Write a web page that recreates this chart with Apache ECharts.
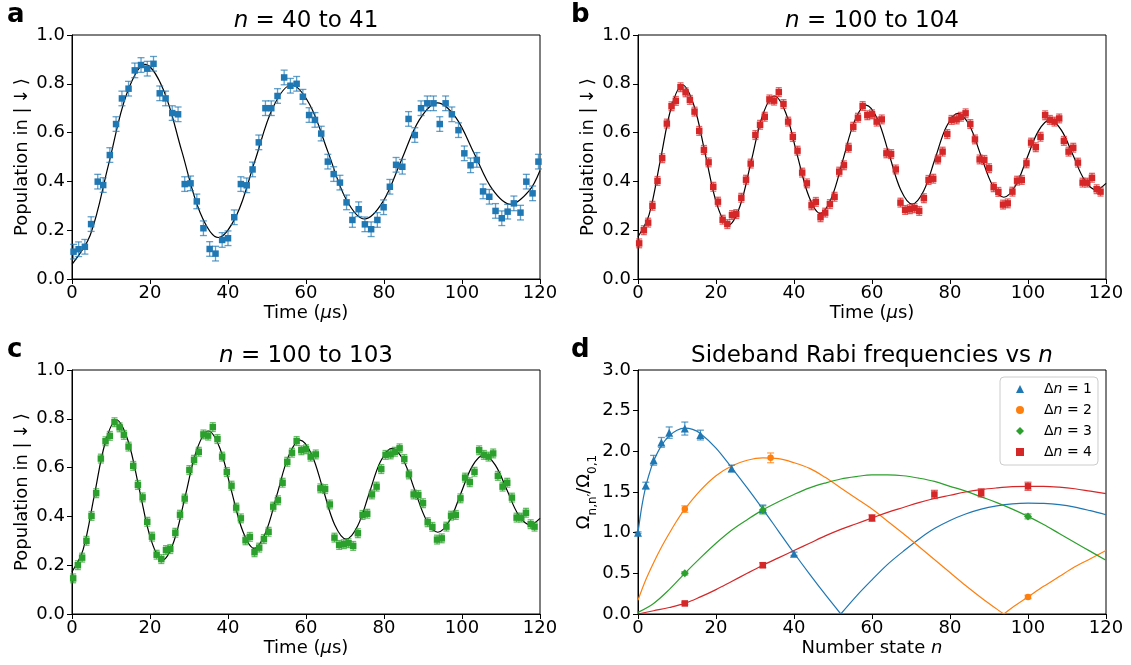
<!DOCTYPE html>
<html><head><meta charset="utf-8">
<script src="https://cdn.jsdelivr.net/npm/echarts@6/dist/echarts.min.js"></script>
<style>html,body{margin:0;padding:0;background:#fff}#c{width:1131px;height:665px}</style>
</head><body><div id="c"></div>
<script>
// ---------- Panel a: n = 40 to 41 ----------
const timeA = [0.4,1.7,3.3,4.9,6.6,8.0,9.7,11.3,12.8,14.5,16.1,17.7,19.3,20.9,22.5,24.0,25.7,27.2,28.9,30.4,32.0,33.7,35.3,36.8,38.5,40.0,41.6,43.3,44.8,46.3,47.9,49.6,51.1,52.7,54.4,56.0,57.6,59.2,60.8,62.3,63.9,65.6,67.1,68.7,70.4,71.9,73.5,75.1,76.7,78.3,79.9,81.5,83.1,84.7,86.3,87.9,89.5,91.1,92.7,94.3,95.8,97.4,99.1,100.6,102.2,103.8,105.4,107.0,108.6,110.2,111.7,113.3,115.0,116.5,118.1,119.6];
const popA = [0.112,0.122,0.132,0.225,0.399,0.385,0.508,0.635,0.74,0.78,0.855,0.877,0.862,0.882,0.761,0.74,0.68,0.675,0.389,0.392,0.318,0.208,0.123,0.104,0.16,0.167,0.253,0.389,0.384,0.449,0.56,0.70,0.70,0.75,0.826,0.792,0.80,0.747,0.672,0.652,0.596,0.481,0.43,0.395,0.314,0.242,0.286,0.224,0.204,0.242,0.294,0.378,0.468,0.46,0.656,0.59,0.70,0.72,0.72,0.635,0.72,0.675,0.61,0.515,0.466,0.488,0.359,0.337,0.279,0.249,0.276,0.31,0.272,0.399,0.351,0.481];
const errA = 0.03;
const fitTA = [0,4.69,9.38,14.06,18.75,23.44,28.13,32.81,37.5,42.19,46.88,51.56,56.25,60.94,65.63,70.31,75,79.69,84.38,89.06,93.75,98.44,103.13,107.81,112.5,117.19,120];
const fitVA = [0.06,0.18,0.47,0.76,0.88,0.776,0.525,0.274,0.17,0.261,0.483,0.704,0.795,0.715,0.521,0.326,0.246,0.316,0.484,0.652,0.722,0.661,0.514,0.367,0.306,0.361,0.445];

// ---------- Panel b: n = 100 to 104 ----------
const timeB = [0.3,1.5,2.6,3.7,5.0,6.2,7.4,8.6,9.7,10.9,12.2,13.3,14.5,15.7,16.9,18.1,19.3,20.5,21.7,22.9,24.1,25.2,26.5,27.7,28.9,30.1,31.3,32.5,33.7,34.9,36.1,37.3,38.5,39.7,40.9,42.1,43.3,44.5,45.6,46.8,48.0,49.2,50.4,51.6,52.8,54.0,55.2,56.4,57.6,58.8,60.0,61.2,62.5,63.7,64.9,66.1,67.3,68.5,69.7,70.9,72.1,73.3,74.5,75.7,76.9,78.1,79.3,80.4,81.7,82.8,84.0,85.2,86.4,87.6,88.8,90.0,91.2,92.4,93.6,94.8,96.0,97.2,98.4,99.6,100.8,102.0,103.2,104.4,105.6,106.8,108.0,109.2,110.4,111.6,112.8,114.0,115.2,116.4,117.6,118.6];
const popB = [0.146,0.20,0.231,0.30,0.402,0.495,0.637,0.708,0.73,0.786,0.765,0.734,0.686,0.607,0.529,0.478,0.378,0.317,0.243,0.225,0.262,0.266,0.333,0.407,0.473,0.59,0.632,0.665,0.736,0.731,0.766,0.717,0.645,0.582,0.526,0.436,0.392,0.302,0.316,0.253,0.272,0.307,0.337,0.44,0.466,0.538,0.624,0.661,0.709,0.671,0.675,0.645,0.654,0.515,0.512,0.449,0.313,0.283,0.286,0.29,0.279,0.331,0.406,0.411,0.49,0.522,0.594,0.652,0.654,0.665,0.679,0.635,0.572,0.49,0.488,0.454,0.376,0.357,0.305,0.31,0.358,0.403,0.406,0.474,0.559,0.54,0.583,0.671,0.652,0.645,0.658,0.566,0.522,0.538,0.477,0.395,0.395,0.415,0.368,0.358];
const errB = 0.018;
const fitTB = [0,2.85,5.7,8.55,11.4,14.35,17.3,20.25,23.2,26.14,29.08,32.0,34.95,37.9,40.8,43.8,46.7,49.65,52.6,55.55,58.5,61.45,64.4,67.35,70.3,73.24,76.18,79.1,82.05,85.0,87.9,90.86,93.8,96.75,99.7,102.65,105.6,108.55,111.5,114.45,117.4,120];
const fitVB = [0.173,0.264,0.484,0.704,0.795,0.711,0.508,0.305,0.221,0.298,0.486,0.673,0.75,0.680,0.510,0.339,0.269,0.334,0.491,0.648,0.713,0.654,0.510,0.366,0.307,0.361,0.493,0.625,0.679,0.629,0.507,0.385,0.335,0.381,0.494,0.606,0.652,0.610,0.509,0.407,0.365,0.392];

// ---------- Panel c: n = 100 to 103 (same measured values as shown) ----------
const timeC = [0.3,1.5,2.6,3.7,5.0,6.2,7.4,8.6,9.7,10.9,12.2,13.3,14.5,15.7,16.9,18.1,19.3,20.5,21.7,22.9,24.1,25.2,26.5,27.7,28.9,30.1,31.3,32.5,33.7,34.9,36.1,37.3,38.5,39.7,40.9,42.1,43.3,44.5,45.6,46.8,48.0,49.2,50.4,51.6,52.8,54.0,55.2,56.4,57.6,58.8,60.0,61.2,62.5,63.7,64.9,66.1,67.3,68.5,69.7,70.9,72.1,73.3,74.5,75.7,76.9,78.1,79.3,80.4,81.7,82.8,84.0,85.2,86.4,87.6,88.8,90.0,91.2,92.4,93.6,94.8,96.0,97.2,98.4,99.6,100.8,102.0,103.2,104.4,105.6,106.8,108.0,109.2,110.4,111.6,112.8,114.0,115.2,116.4,117.6,118.6];
const popC = [0.146,0.20,0.231,0.30,0.402,0.495,0.637,0.708,0.73,0.786,0.765,0.734,0.686,0.607,0.529,0.478,0.378,0.317,0.243,0.225,0.262,0.266,0.333,0.407,0.473,0.59,0.632,0.665,0.736,0.731,0.766,0.717,0.645,0.582,0.526,0.436,0.392,0.302,0.316,0.253,0.272,0.307,0.337,0.44,0.466,0.538,0.624,0.661,0.709,0.671,0.675,0.645,0.654,0.515,0.512,0.449,0.313,0.283,0.286,0.29,0.279,0.331,0.406,0.411,0.49,0.522,0.594,0.652,0.654,0.665,0.679,0.635,0.572,0.49,0.488,0.454,0.376,0.357,0.305,0.31,0.358,0.403,0.406,0.474,0.559,0.54,0.583,0.671,0.652,0.645,0.658,0.566,0.522,0.538,0.477,0.395,0.395,0.415,0.368,0.358];
const errC = 0.018;
const fitTC = [0,2.85,5.7,8.55,11.4,14.35,17.3,20.25,23.2,26.14,29.08,32.0,34.95,37.9,40.8,43.8,46.7,49.65,52.6,55.55,58.5,61.45,64.4,67.35,70.3,73.24,76.18,79.1,82.05,85.0,87.9,90.86,93.8,96.75,99.7,102.65,105.6,108.55,111.5,114.45,117.4,120];
const fitVC = [0.173,0.264,0.484,0.704,0.795,0.711,0.508,0.305,0.221,0.298,0.486,0.673,0.75,0.680,0.510,0.339,0.269,0.334,0.491,0.648,0.713,0.654,0.510,0.366,0.307,0.361,0.493,0.625,0.679,0.629,0.507,0.385,0.335,0.381,0.494,0.606,0.652,0.610,0.509,0.407,0.365,0.392];

// ---------- Panel d: sideband Rabi frequencies ----------
const dnLabels = ['1','2','3','4'];
const nD1 = [0,2,4,6,8,12,16,24,32,40];
const vD1 = [1.0,1.58,1.89,2.11,2.23,2.28,2.20,1.79,1.29,0.74];
const eD1 = [0.01,0.04,0.06,0.06,0.07,0.08,0.06,0.04,0.05,0.02];
const nD2 = [12,34,100];
const vD2 = [1.29,1.92,0.21];
const eD2 = [0.04,0.06,0.02];
const nD3 = [12,32,100];
const vD3 = [0.50,1.28,1.20];
const eD3 = [0.02,0.05,0.03];
const nD4 = [12,32,60,76,88,100];
const vD4 = [0.13,0.60,1.18,1.47,1.49,1.57];
const eD4 = [0.015,0.03,0.04,0.05,0.05,0.05];
const fitN1a = [0,1,2,3,4,6,8,10,12,14,16,20,24,28,32,36,40,44,48,52];
const fitV1a = [1.0,1.33,1.57,1.74,1.88,2.07,2.19,2.26,2.285,2.27,2.22,2.04,1.80,1.55,1.29,1.02,0.75,0.49,0.24,0];
const fitN1b = [52,56,60,64,68,72,76,80,84,88,92,96,100,104,108,112,116,120];
const fitV1b = [0,0.22,0.42,0.61,0.77,0.92,1.05,1.15,1.23,1.29,1.33,1.355,1.363,1.36,1.345,1.315,1.27,1.22];
const fitN2a = [0,2,4,6,8,10,12,16,20,24,28,32,36,40,44,48,52,56,60,64,68,72,76,80,84,88,92,93.8];
const fitV2a = [0.17,0.42,0.63,0.82,0.99,1.15,1.29,1.52,1.70,1.82,1.89,1.92,1.91,1.86,1.79,1.68,1.55,1.42,1.29,1.14,0.99,0.83,0.67,0.51,0.35,0.20,0.06,0];
const fitN2b = [93.8,96,100,104,108,112,116,120];
const fitV2b = [0,0.08,0.21,0.34,0.46,0.58,0.68,0.78];
const fitN3 = [0,4,8,12,16,20,24,28,32,36,40,44,48,52,56,60,64,68,72,76,80,84,88,92,96,100,104,108,112,116,120];
const fitV3 = [0.02,0.13,0.30,0.50,0.69,0.87,1.03,1.16,1.28,1.38,1.47,1.55,1.61,1.66,1.69,1.71,1.71,1.70,1.67,1.63,1.57,1.51,1.44,1.37,1.29,1.20,1.10,0.99,0.88,0.77,0.66];
const fitN4 = [0,4,8,12,16,20,24,28,32,36,40,44,48,52,56,60,64,68,72,76,80,84,88,92,96,100,104,108,112,116,120];
const fitV4 = [0.0,0.04,0.08,0.13,0.21,0.30,0.40,0.50,0.60,0.69,0.78,0.87,0.96,1.04,1.11,1.18,1.25,1.31,1.37,1.42,1.46,1.50,1.53,1.55,1.565,1.57,1.57,1.56,1.54,1.51,1.48];

// ---------- Tick settings ----------
const popTicks = {min: 0, max: 1, interval: 0.2};
const rabiTicks = {min: 0, max: 3, interval: 0.5};
const timeTicks = {min: 0, max: 120, interval: 20};

// ---------- Rendering ----------
const FONT = 'DejaVu Sans';
const BLUE = '#1f77b4', ORANGE = '#ff7f0e', GREEN = '#2ca02c', RED = '#d62728';

function pts(xs, ys) { return xs.map((x, i) => [x, ys[i]]); }
function errPts(xs, ys, es) { return xs.map((x, i) => [x, ys[i], Array.isArray(es) ? es[i] : es]); }

function errRender(color, cap) {
  return function (params, api) {
    const x = api.value(0), y = api.value(1), e = api.value(2);
    const p1 = api.coord([x, y + e]), p2 = api.coord([x, y - e]);
    const st = {stroke: color, lineWidth: 1.3, opacity: 0.7};
    return {type: 'group', children: [
      {type: 'line', shape: {x1: p1[0], y1: p1[1], x2: p2[0], y2: p2[1]}, style: st},
      {type: 'line', shape: {x1: p1[0] - cap, y1: p1[1], x2: p1[0] + cap, y2: p1[1]}, style: st},
      {type: 'line', shape: {x1: p2[0] - cap, y1: p2[1], x2: p2[0] + cap, y2: p2[1]}, style: st}
    ]};
  };
}

const baseRich = {
  r: {fontSize: 18, fontFamily: FONT, color: '#000'},
  i: {fontSize: 18, fontFamily: FONT, color: '#000', fontStyle: 'italic'}
};

function xAx(g, name) {
  return Object.assign({gridIndex: g, type: 'value', name: name, nameLocation: 'middle', nameGap: 25,
    nameTextStyle: {color: '#000', fontSize: 18, fontFamily: FONT, rich: baseRich},
    axisLine: {show: true, onZero: false, lineStyle: {color: '#000', width: 1}},
    axisTick: {show: true, inside: false, length: 5, lineStyle: {color: '#000', width: 1}},
    axisLabel: {show: true, color: '#000', fontSize: 18, fontFamily: FONT, margin: 5},
    splitLine: {show: false}}, timeTicks);
}
function yAx(g, name, ticks, gap, rich) {
  return Object.assign({gridIndex: g, type: 'value', name: name, nameLocation: 'middle', nameGap: gap,
    nameRotate: 90,
    nameTextStyle: {color: '#000', fontSize: 18, fontFamily: FONT, rich: rich || baseRich},
    axisLine: {show: true, onZero: false, lineStyle: {color: '#000', width: 1}},
    axisTick: {show: true, inside: false, length: 5, lineStyle: {color: '#000', width: 1}},
    axisLabel: {show: true, color: '#000', fontSize: 18, fontFamily: FONT, margin: 7,
      formatter: v => v.toFixed(1)},
    splitLine: {show: false}}, ticks);
}

const grids = [
  {left: 72, top: 35, width: 468, height: 244},
  {left: 638, top: 35, width: 468, height: 244},
  {left: 72, top: 370, width: 468, height: 244},
  {left: 638, top: 370, width: 468, height: 244}
].map(g => Object.assign(g, {show: true, borderColor: '#000', borderWidth: 1, backgroundColor: 'transparent', containLabel: false, outerBoundsMode: 'none'}));

const series = [];
function popPanel(g, t, v, e, ft, fv, color, cap) {
  series.push({type: 'line', xAxisIndex: g, yAxisIndex: g, data: pts(ft, fv), smooth: 0.35,
    showSymbol: false, symbol: 'none', lineStyle: {color: '#000', width: 1.2}, z: 2, silent: true});
  series.push({type: 'custom', xAxisIndex: g, yAxisIndex: g, data: errPts(t, v, e),
    renderItem: errRender(color, cap), encode: {x: 0, y: 1}, z: 3, silent: true});
  series.push({type: 'scatter', xAxisIndex: g, yAxisIndex: g, data: pts(t, v), symbol: 'rect',
    symbolSize: 6.5, itemStyle: {color: color, opacity: 1}, z: 4, silent: true});
}
popPanel(0, timeA, popA, errA, fitTA, fitVA, BLUE, 3.5);
popPanel(1, timeB, popB, errB, fitTB, fitVB, RED, 3);
popPanel(2, timeC, popC, errC, fitTC, fitVC, GREEN, 3);

function fitLine(ns, vs, color) {
  series.push({type: 'line', xAxisIndex: 3, yAxisIndex: 3, data: pts(ns, vs), smooth: 0.35,
    showSymbol: false, symbol: 'none', lineStyle: {color: color, width: 1.2}, z: 2, silent: true});
}
fitLine(fitN1a, fitV1a, BLUE); fitLine(fitN1b, fitV1b, BLUE);
fitLine(fitN2a, fitV2a, ORANGE); fitLine(fitN2b, fitV2b, ORANGE);
fitLine(fitN3, fitV3, GREEN);
fitLine(fitN4, fitV4, RED);

const dSets = [
  [nD1, vD1, eD1, BLUE, 'triangle', 8],
  [nD2, vD2, eD2, ORANGE, 'circle', 6.5],
  [nD3, vD3, eD3, GREEN, 'diamond', 8],
  [nD4, vD4, eD4, RED, 'rect', 6.5]
];
dSets.forEach((s, k) => {
  series.push({type: 'custom', xAxisIndex: 3, yAxisIndex: 3, data: errPts(s[0], s[1], s[2]),
    renderItem: errRender(s[3], 3.5), encode: {x: 0, y: 1}, z: 3, silent: true});
  series.push({type: 'scatter', name: 'Δn = ' + dnLabels[k], xAxisIndex: 3, yAxisIndex: 3,
    data: pts(s[0], s[1]), symbol: s[4], symbolSize: s[5], itemStyle: {color: s[3], opacity: 1}, z: 4});
});

const rabiRich = {
  o: {fontSize: 18, fontFamily: FONT, color: '#000', lineHeight: 23, verticalAlign: 'top'},
  s: {fontSize: 12, fontFamily: FONT, color: '#000', lineHeight: 12, verticalAlign: 'bottom'}
};

function gText(x, y, text, size, bold, align) {
  return {type: 'text', x: x, y: y, silent: true, style: {
    text: text, fill: '#000', fontSize: size, fontFamily: FONT, fontWeight: bold ? 'bold' : 'normal',
    textAlign: align, align: align, textVerticalAlign: 'middle', verticalAlign: 'middle',
    rich: {
      r: {fontSize: size, fontFamily: FONT, fill: '#000', color: '#000'},
      i: {fontSize: size, fontFamily: FONT, fill: '#000', color: '#000', fontStyle: 'italic'}
    }}};
}

const option = {
  animation: false,
  backgroundColor: '#fff',
  textStyle: {fontFamily: FONT},
  grid: grids,
  xAxis: [xAx(0, '{r|Time (}{i|μ}{r|s)}'), xAx(1, '{r|Time (}{i|μ}{r|s)}'), xAx(2, '{r|Time (}{i|μ}{r|s)}'),
          xAx(3, '{r|Number state }{i|n}')],
  yAxis: [yAx(0, 'Population in |\u2009↓\u2009⟩', popTicks, 41), yAx(1, 'Population in |\u2009↓\u2009⟩', popTicks, 41),
          yAx(2, 'Population in |\u2009↓\u2009⟩', popTicks, 41),
          yAx(3, '{o|Ω}{s|n,n′}{o|/Ω}{s|0,1}', rabiTicks, 33, rabiRich)],
  legend: {
    show: true, orient: 'vertical', left: 1000, top: 377,
    data: dnLabels.map(k => 'Δn = ' + k),
    backgroundColor: '#fff', borderColor: '#ccc', borderWidth: 1, borderRadius: 4,
    padding: [4, 6, 5, 16], itemGap: 5, itemWidth: 8, itemHeight: 8,
    formatter: name => '{d|Δ}{i|n}{r| = ' + name.split('= ')[1] + '}',
    textStyle: {color: '#000', fontSize: 14, fontFamily: FONT, lineHeight: 16, rich: {
      d: {fontSize: 14, fontFamily: FONT, color: '#000', padding: [0, 0, 0, 15]},
      i: {fontSize: 14, fontFamily: FONT, color: '#000', fontStyle: 'italic'},
      r: {fontSize: 14, fontFamily: FONT, color: '#000'}
    }}
  },
  graphic: [
    gText(7, 15, 'a', 26, true, 'left'),
    gText(571, 15, 'b', 26, true, 'left'),
    gText(7, 350, 'c', 26, true, 'left'),
    gText(571, 350, 'd', 26, true, 'left'),
    gText(306, 21, '{i|n}{r| = 40 to 41}', 23, false, 'center'),
    gText(872, 21, '{i|n}{r| = 100 to 104}', 23, false, 'center'),
    gText(306, 356, '{i|n}{r| = 100 to 103}', 23, false, 'center'),
    gText(872, 356, '{r|Sideband Rabi frequencies vs }{i|n}', 23, false, 'center')
  ],
  series: series
};

const chart = echarts.init(document.getElementById('c'), null, {renderer: 'canvas'});
chart.setOption(option);
</script></body></html>
